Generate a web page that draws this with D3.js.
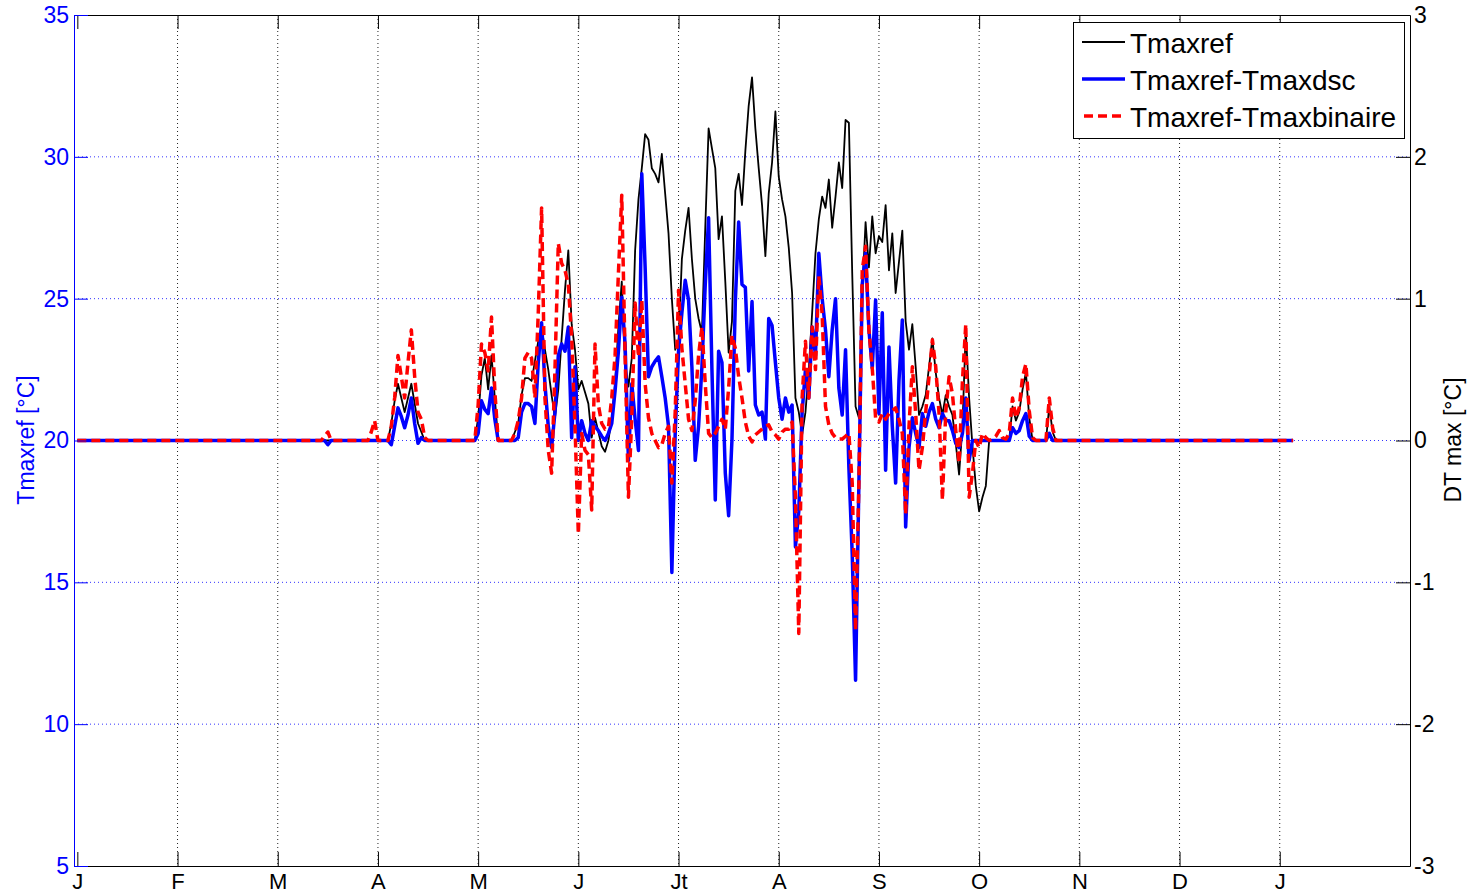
<!DOCTYPE html>
<html lang="en">
<head>
  <meta charset="UTF-8">
  <title>Tmaxref</title>
  <style>
    body { margin: 0; background: #fff; }
    svg { display: block; font-family: "Liberation Sans", Arial, sans-serif; }
    .vgrid { stroke: #222; stroke-dasharray: 1,3; }
    .hgrid { stroke: #3333ff; stroke-dasharray: 1,3; }
    .series { fill: none; stroke-linejoin: round; }
  </style>
</head>
<body>
  <svg width="1470" height="892"></svg>

  <script src="https://d3js.org/d3.v7.min.js"></script>
  <script>
    // month ticks (day of year) and labels
    const monthDays = [1, 31, 61, 91, 121, 151, 181, 211, 241, 271, 301, 331, 361];
    const monthLabels = ["J", "F", "M", "A", "M", "J", "Jt", "A", "S", "O", "N", "D", "J"];
    const leftTicks = [5, 10, 15, 20, 25, 30, 35];
    const rightTicks = [-3, -2, -1, 0, 1, 2, 3];

    // Tmaxref, left axis [°C]  ([day, value])
    const tmaxref = [
      [1,20],[94,20],[95,20.6],[96,21.4],[97,22.0],[98,21.5],[99,21.0],[100,21.5],[101,22.0],[102,21.3],[103,20.6],[104,20.3],[105,20],
      [120,20],[121,20.8],[122,22.3],[123,22.9],[124,21.8],[125,23.0],[126,21.5],[127,20],
      [131,20],[132,20.3],[133,20.6],[134,21.6],[135,22.2],[136,22.2],[137,22.1],[138,22.8],[139,23.5],[140,24.0],[141,23.2],[142,22.5],[143,21.6],[144,20.8],[145,21.8],[146,23.6],[147,25.3],[148,26.7],[149,24.1],[150,23.2],
      [151,21.8],[152,22.1],[153,21.7],[154,21.3],[155,20.1],[156,20.8],[157,20.3],[158,19.8],[159,19.6],[160,20.0],[161,20.8],[162,22.0],[163,24.0],[164,25.6],[165,22.7],[166,21.9],[167,22.9],[168,26.7],[169,28.5],[170,29.6],
      [171,30.8],[172,30.6],[173,29.6],[174,29.4],[175,29.1],[176,30.1],[177,28.7],[178,27.3],[179,25.0],[180,23.2],[181,23.5],[182,26.4],[183,27.4],[184,28.2],[185,26.4],[186,25.0],[187,24.3],[188,23.8],[189,27.5],[190,31.0],
      [191,30.3],[192,29.6],[193,27.1],[194,27.9],[195,25.6],[196,23.1],[197,24.2],[198,28.8],[199,29.4],[200,28.3],[201,30.2],[202,31.8],[203,32.8],[204,31.0],[205,29.6],[206,28.3],[207,26.5],[208,28.7],[209,29.8],[210,31.6],
      [211,29.3],[212,28.5],[213,27.9],[214,26.8],[215,25.2],[216,21.5],[217,21.0],[218,20.2],[219,21.0],[220,22.5],[221,24.5],[222,26.6],[223,27.8],[224,28.6],[225,28.2],[226,29.2],[227,27.5],[228,28.6],[229,29.8],[230,28.9],
      [231,31.3],[232,31.2],[233,25.9],[234,21.2],[235,20.8],[236,25.2],[237,27.7],[238,26.1],[239,27.9],[240,26.6],[241,27.2],[242,27.0],[243,28.3],[244,26.0],[245,27.3],[246,25.2],[247,26.3],[248,27.4],[249,24.2],[250,23.2],
      [251,24.1],[252,22.6],[253,20.9],[254,21.2],[255,21.6],[256,22.6],[257,23.6],[258,22.4],[259,21.5],[260,20.9],[261,21.6],[262,21.2],[263,20.9],[264,19.9],[265,18.8],[266,20.5],[267,23.9],[268,21.5],[269,19.8],[270,18.4],
      [271,17.5],[272,18.0],[273,18.4],[274,20.0],[280,20],[281,21.2],[282,20.7],[283,21.0],[284,21.8],[285,22.4],[286,20.8],[287,20],[291,20],[292,21.2],[293,20.3],[294,20],[365,20]
    ];

    // Tmaxref-Tmaxdsc, right axis [°C]
    const tmaxDsc = [
      [1,0],[75,0],[76,-0.03],[77,0],[94,0],[95,-0.03],[96,0.10],[97,0.23],[98,0.17],[99,0.09],[100,0.18],[101,0.30],[102,0.12],[103,-0.02],[104,0.02],[105,0],
      [120,0],[121,0.05],[122,0.28],[123,0.22],[124,0.19],[125,0.37],[126,0.15],[127,0],
      [132,0],[133,0.02],[134,0.2],[135,0.26],[136,0.26],[137,0.24],[138,0.12],[139,0.55],[140,0.83],[141,0.4],[142,0.1],[143,-0.05],[144,0.2],[145,0.6],[146,0.68],[147,0.63],[148,0.80],[149,0.02],[150,0.52],
      [151,0],[152,0.14],[153,0.05],[154,0],[155,0.14],[156,0.10],[157,0.07],[158,0.03],[159,0],[160,0.05],[161,0.12],[162,0.35],[163,0.63],[164,1.01],[165,0.68],[166,-0.14],[167,0.40],[168,0.15],[169,-0.07],[170,1.88],
      [171,1.22],[172,0.45],[173,0.52],[174,0.56],[175,0.59],[176,0.45],[177,0.30],[178,0.10],[179,-0.93],[180,0.05],[181,0.63],[182,0.9],[183,1.13],[184,0.99],[185,0.52],[186,-0.14],[187,0.1],[188,0.52],[189,1.1],[190,1.57],
      [191,0.5],[192,-0.42],[193,0.63],[194,0.55],[195,-0.23],[196,-0.53],[197,0.01],[198,0.98],[199,1.54],[200,1.10],[201,1.08],[202,0.49],[203,0.98],[204,0.25],[205,0.18],[206,0.20],[207,0.01],[208,0.86],[209,0.81],[210,0.55],
      [211,0.30],[212,0.15],[213,0.30],[214,0.20],[215,0.25],[216,-0.75],[217,-0.5],[218,0.2],[219,0.5],[220,0.3],[221,0.8],[222,0.6],[223,1.32],[224,1.0],[225,0.78],[226,0.45],[227,0.78],[228,1.0],[229,0.37],[230,0.18],
      [231,0.64],[232,-0.19],[233,-0.8],[234,-1.69],[235,-0.3],[236,1.10],[237,1.32],[238,0.78],[239,0.51],[240,0.99],[241,0.19],[242,0.90],[243,-0.21],[244,0.66],[245,0.1],[246,-0.30],[247,0.42],[248,0.85],[249,-0.61],[250,-0.05],
      [251,0.16],[252,0.05],[253,-0.05],[254,0.19],[255,0.1],[256,0.2],[257,0.26],[258,0.15],[259,0.09],[260,0.19],[261,0.14],[262,0.14],[263,0.07],[264,-0.02],[265,-0.05],[266,0.05],[267,0.30],[268,-0.14],[269,0],
      [280,0],[281,0.09],[282,0.05],[283,0.07],[284,0.14],[285,0.19],[286,0.03],[287,0],[291,0],[292,0.05],[293,0],[365,0]
    ];

    // Tmaxref-Tmaxbinaire, right axis [°C]
    const tmaxBin = [
      [1,0],[74,0],[75,0.03],[76,0.06],[77,0],[88,0],[89,0.06],[90,0.14],[91,0],[94,0],[95,0.1],[96,0.3],[97,0.6],[98,0.45],[99,0.30],[100,0.55],[101,0.78],[102,0.45],[103,0.2],[104,0.15],[105,0.02],[106,0],
      [120,0],[121,0.25],[122,0.68],[123,0.62],[124,0.49],[125,0.87],[126,0.35],[127,0],
      [131,0],[132,0.05],[133,0.14],[134,0.30],[135,0.58],[136,0.62],[137,0.58],[138,0.3],[139,0.9],[140,1.64],[141,0.3],[142,-0.07],[143,-0.23],[144,0.5],[145,1.39],[146,1.25],[147,1.2],[148,1.1],[149,0.73],[150,0.1],
      [151,-0.66],[152,0.05],[153,-0.07],[154,-0.1],[155,-0.49],[156,0.68],[157,0.25],[158,0.12],[159,0.08],[160,0.09],[161,0.3],[162,0.6],[163,1.18],[164,1.73],[165,0.6],[166,-0.40],[167,0.16],[168,0.97],[169,0.59],[170,0.99],
      [171,0.40],[172,0.16],[173,0.05],[174,0],[175,-0.05],[176,-0.03],[177,0.05],[178,0.1],[179,-0.3],[180,0.2],[181,1.06],[182,0.65],[183,0.40],[184,0.15],[185,0.07],[186,0.28],[187,0.6],[188,0.8],[189,0.4],[190,0.05],
      [191,0.02],[192,0.05],[193,0.10],[194,0.15],[195,0.08],[196,0.37],[197,0.74],[198,0.65],[199,0.45],[200,0.3],[201,0.13],[202,0.03],[203,-0.01],[204,0.04],[205,0.06],[206,0.08],[207,0.10],[208,0.11],[209,0.06],[210,0.04],
      [211,0.01],[212,0.06],[213,0.08],[214,0.08],[215,0.13],[216,-0.4],[217,-1.36],[218,0.3],[219,0.7],[220,0.3],[221,0.8],[222,0.5],[223,1.16],[224,0.89],[225,0.24],[226,0.11],[227,0.05],[228,0.02],[229,0.01],[230,0.01],
      [231,0.03],[232,0.05],[233,-0.3],[234,-1.34],[235,-0.3],[236,1.2],[237,1.37],[238,0.78],[239,0.51],[240,0.16],[241,0.13],[242,0.19],[243,0.15],[244,0.19],[245,0.21],[246,0.23],[247,0.15],[248,0.05],[249,-0.52],[250,0.1],
      [251,0.52],[252,0.19],[253,-0.21],[254,-0.05],[255,0.2],[256,0.45],[257,0.71],[258,0.52],[259,0.19],[260,-0.42],[261,0.2],[262,0.45],[263,0.33],[264,0.07],[265,-0.16],[266,0.42],[267,0.82],[268,-0.40],[269,-0.23],[270,0],
      [271,-0.05],[272,0.05],[273,0.02],[274,0],[275,0.01],[276,0.03],[277,0.07],[278,0.02],[279,0.01],[280,0.05],[281,0.30],[282,0.16],[283,0.23],[284,0.45],[285,0.54],[286,0.21],[287,0.02],[288,0],
      [291,0],[292,0.30],[293,0.09],[294,0],[365,0]
    ];

    const svg = d3.select("svg");
    const plotLeft = 74, plotRight = 1410, plotTop = 15, plotBottom = 866;

    const x = d3.scaleLinear().domain([0, 400]).range([plotLeft, plotRight]);
    const yL = d3.scaleLinear().domain([5, 35]).range([plotBottom, plotTop]);
    const yR = d3.scaleLinear().domain([-3, 3]).range([plotBottom, plotTop]);

    // grid
    svg.append("g").selectAll("line")
      .data(monthDays.slice(1))
      .join("line")
      .attr("class", "vgrid")
      .attr("x1", d => x(d)).attr("x2", d => x(d))
      .attr("y1", plotTop).attr("y2", plotBottom);

    svg.append("g").selectAll("line")
      .data(leftTicks.slice(1, -1))
      .join("line")
      .attr("class", "hgrid")
      .attr("x1", plotLeft).attr("x2", plotRight)
      .attr("y1", d => yL(d)).attr("y2", d => yL(d));

    // series
    const lineL = d3.line().x(d => x(d[0])).y(d => yL(d[1]));
    const lineR = d3.line().x(d => x(d[0])).y(d => yR(d[1]));

    svg.append("path").datum(tmaxref)
      .attr("class", "series").attr("d", lineL)
      .attr("stroke", "#000").attr("stroke-width", 1.8);

    svg.append("path").datum(tmaxDsc)
      .attr("class", "series").attr("d", lineR)
      .attr("stroke", "#0000ff").attr("stroke-width", 3.5);

    svg.append("path").datum(tmaxBin)
      .attr("class", "series").attr("d", lineR)
      .attr("stroke", "#ff0000").attr("stroke-width", 3.5)
      .attr("stroke-dasharray", "9,5");

    // axes
    const fontSize = 23;

    const xAxis = svg.append("g")
      .attr("transform", `translate(0,${plotBottom})`)
      .call(d3.axisBottom(x).tickValues(monthDays)
        .tickFormat((d, i) => monthLabels[i])
        .tickSizeInner(-14).tickSizeOuter(0).tickPadding(7));

    const xAxisTop = svg.append("g")
      .attr("transform", `translate(0,${plotTop})`)
      .call(d3.axisTop(x).tickValues(monthDays).tickFormat("")
        .tickSizeInner(-14).tickSizeOuter(0));

    const yAxisL = svg.append("g")
      .attr("transform", `translate(${plotLeft},0)`)
      .call(d3.axisLeft(yL).tickValues(leftTicks)
        .tickSizeInner(-14).tickSizeOuter(0).tickPadding(5));

    const yAxisR = svg.append("g")
      .attr("transform", `translate(${plotRight},0)`)
      .call(d3.axisRight(yR).tickValues(rightTicks)
        .tickFormat(d => String(d))
        .tickSizeInner(-14).tickSizeOuter(0).tickPadding(4));

    [xAxis, xAxisTop, yAxisR].forEach(g => {
      g.selectAll("path, line").attr("stroke", "#000").attr("stroke-width", 1);
      g.selectAll("text").attr("fill", "#000");
    });
    yAxisL.selectAll("path, line").attr("stroke", "#0000ff").attr("stroke-width", 1);
    yAxisL.selectAll("text").attr("fill", "#0000ff");

    svg.selectAll("g text")
      .attr("font-size", fontSize)
      .attr("font-family", "Liberation Sans, Arial, sans-serif");
    // month labels sit low, just under the axis
    xAxis.selectAll("text").attr("font-size", 22);

    // axis titles
    svg.append("text")
      .attr("transform", "translate(34,440) rotate(-90)")
      .attr("text-anchor", "middle")
      .attr("font-size", fontSize)
      .attr("fill", "#0000ff")
      .text("Tmaxref [°C]");

    svg.append("text")
      .attr("transform", "translate(1461,440) rotate(-90)")
      .attr("text-anchor", "middle")
      .attr("font-size", fontSize)
      .attr("fill", "#000")
      .text("DT max [°C]");

    // legend
    const legendItems = [
      { name: "Tmaxref", color: "#000", width: 1.8, dash: null },
      { name: "Tmaxref-Tmaxdsc", color: "#0000ff", width: 3.5, dash: null },
      { name: "Tmaxref-Tmaxbinaire", color: "#ff0000", width: 3.5, dash: "9,5" }
    ];

    const legend = svg.append("g");
    legend.append("rect")
      .attr("x", 1073.5).attr("y", 22.5)
      .attr("width", 331).attr("height", 116)
      .attr("fill", "#fff").attr("stroke", "#000");

    const item = legend.selectAll("g.item")
      .data(legendItems)
      .join("g")
      .attr("class", "item")
      .attr("transform", (d, i) => `translate(0,${42 + i * 37})`);

    item.append("line")
      .attr("x1", d => d.dash ? 1084 : 1082).attr("x2", 1125)
      .attr("stroke", d => d.color)
      .attr("stroke-width", d => d.width)
      .attr("stroke-dasharray", d => d.dash);

    item.append("text")
      .attr("x", 1130).attr("y", 11)
      .attr("font-size", 28)
      .attr("fill", "#000")
      .text(d => d.name);
  </script>
</body>
</html>
